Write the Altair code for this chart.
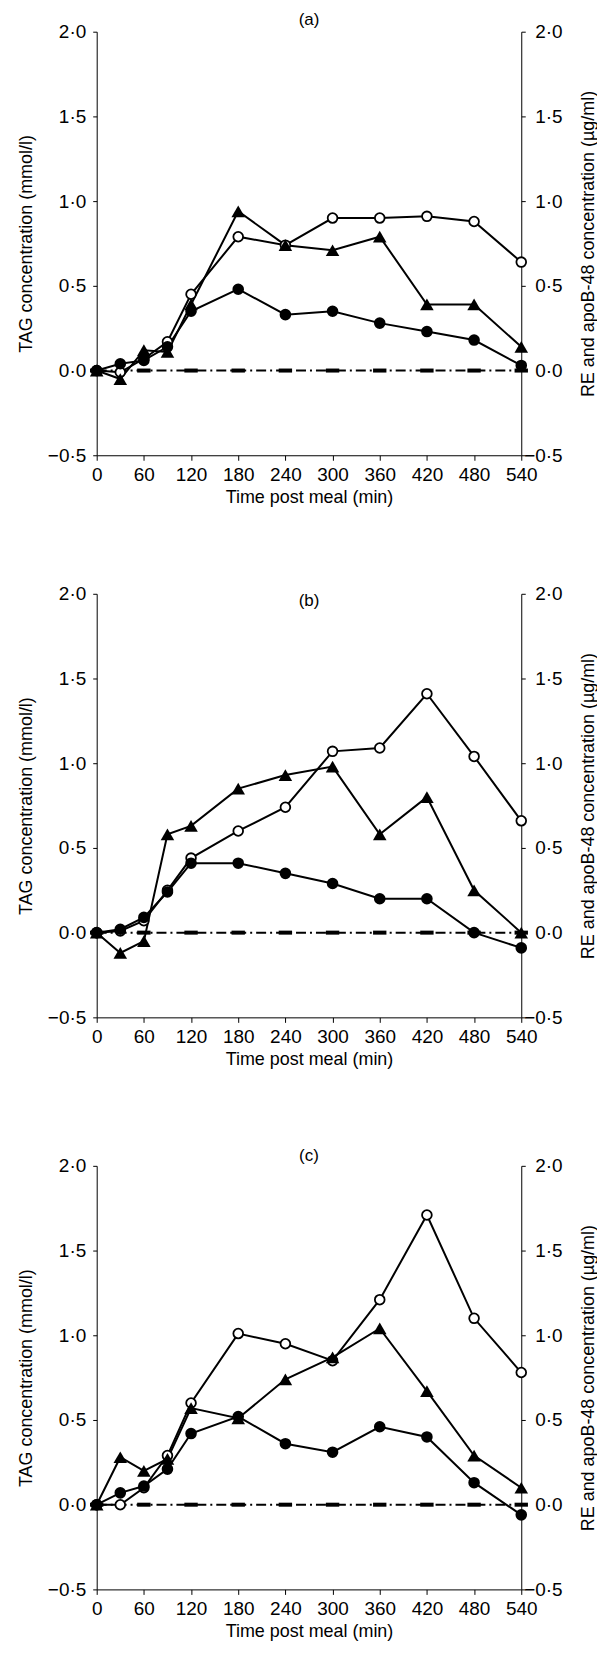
import altair as alt
import pandas as pd

times = [0, 30, 60, 90, 120, 180, 240, 300, 360, 420, 480, 540]
control_times = [0, 60, 120, 180, 240, 300, 360, 420, 480, 540]
control_values = [0.0, 0.0, 0.0, 0.0, 0.0, 0.0, 0.0, 0.0, 0.0, 0.0]

a_open = [0.00, -0.01, 0.07, 0.17, 0.45, 0.79, 0.74, 0.90, 0.90, 0.91, 0.88, 0.64]
a_filled = [0.00, 0.04, 0.06, 0.14, 0.35, 0.48, 0.33, 0.35, 0.28, 0.23, 0.18, 0.03]
a_tri = [0.00, -0.05, 0.12, 0.11, 0.39, 0.94, 0.74, 0.71, 0.79, 0.39, 0.39, 0.14]

b_open = [0.00, 0.01, 0.07, 0.25, 0.44, 0.60, 0.74, 1.07, 1.09, 1.41, 1.04, 0.66]
b_filled = [0.00, 0.02, 0.09, 0.24, 0.41, 0.41, 0.35, 0.29, 0.20, 0.20, 0.00, -0.09]
b_tri = [0.00, -0.12, -0.05, 0.58, 0.63, 0.85, 0.93, 0.98, 0.58, 0.80, 0.25, 0.00]

c_open = [0.00, 0.00, 0.10, 0.29, 0.60, 1.01, 0.95, 0.85, 1.21, 1.71, 1.10, 0.78]
c_filled = [0.00, 0.07, 0.11, 0.21, 0.42, 0.52, 0.36, 0.31, 0.46, 0.40, 0.13, -0.06]
c_tri = [0.00, 0.28, 0.20, 0.27, 0.57, 0.51, 0.74, 0.87, 1.04, 0.67, 0.29, 0.10]

x_ticks = [0, 60, 120, 180, 240, 300, 360, 420, 480, 540]
y_ticks = [-0.5, 0.0, 0.5, 1.0, 1.5, 2.0]

FONT = "Liberation Sans"
W, H = 426, 425

x_scale = alt.Scale(domain=[0, 540], nice=False, zero=False)
y_scale = alt.Scale(domain=[-0.5, 2.0], nice=False, zero=False)
lab_expr = "replace(format(datum.value, '.1f'), '.', '\u00b7')"

x_axis = alt.Axis(values=x_ticks, format="d", title="Time post meal (min)",
                  tickSize=5, labelPadding=5, titlePadding=4, labelFlush=False,
                  grid=False)
left_axis = alt.Axis(values=y_ticks, labelExpr=lab_expr, orient="left",
                     title="TAG concentration (mmol/l)", tickSize=4,
                     labelPadding=7, titlePadding=12, grid=False)
right_axis = alt.Axis(values=y_ticks, labelExpr=lab_expr, orient="right",
                      title="RE and apoB-48 concentration (\u00b5g/ml)",
                      tickSize=4, labelPadding=37, labelAlign="right",
                      titlePadding=35, titleAngle=270, grid=False)


def panel(label, open_v, filled_v, tri_v, title_offset):
    rows = []
    for name, vals in (("open", open_v), ("filled", filled_v), ("tri", tri_v)):
        for t, v in zip(times, vals):
            rows.append({"time": t, "value": v, "series": name})
    df = pd.DataFrame(rows)
    ctrl = pd.DataFrame({"time": control_times, "value": control_values})

    X = alt.X("time:Q", scale=x_scale, axis=x_axis)

    def Y(axis=None):
        return alt.Y("value:Q", scale=y_scale, axis=axis)

    ctrl_line = alt.Chart(ctrl).mark_line(
        color="black", strokeWidth=2, strokeDash=[10, 4, 2, 4]
    ).encode(x=X, y=Y(left_axis))
    ctrl_marks = alt.Chart(ctrl).mark_point(
        shape="M-1,-0.3L1,-0.3L1,0.3L-1,0.3Z", filled=True, color="black",
        opacity=1, size=180
    ).encode(x=X, y=Y())
    lines = alt.Chart(df).mark_line(color="black", strokeWidth=2).encode(
        x=X, y=Y(), detail="series:N"
    )
    opens = alt.Chart(df).transform_filter(alt.datum.series == "open").mark_point(
        shape="circle", filled=True, fill="white", stroke="black",
        strokeWidth=1.8, size=95, opacity=1
    ).encode(x=X, y=Y())
    filled = alt.Chart(df).transform_filter(alt.datum.series == "filled").mark_point(
        shape="circle", filled=True, color="black", size=135, opacity=1
    ).encode(x=X, y=Y())
    tris = alt.Chart(df).transform_filter(alt.datum.series == "tri").mark_point(
        shape="triangle-up", filled=True, color="black", size=185, opacity=1
    ).encode(x=X, y=Y())
    right = alt.Chart(ctrl).mark_line(opacity=0).encode(
        x=X, y=Y(right_axis)
    )
    return alt.layer(ctrl_line, ctrl_marks, lines, opens, filled, tris, right).resolve_scale(
        y="independent"
    ).properties(
        width=W, height=H,
        title=alt.TitleParams(text=label, fontSize=17, font=FONT, fontWeight="normal",
                              frame="group", anchor="middle", offset=title_offset,
                              color="black"),
    )


chart = alt.vconcat(
    panel("(a)", a_open, a_filled, a_tri, -6),
    panel("(b)", b_open, b_filled, b_tri, -25),
    panel("(c)", c_open, c_filled, c_tri, -8),
    spacing=79,
).properties(
    padding={"left": 9, "right": 0, "top": 0, "bottom": 0},
    background="white",
).configure_axis(
    labelFont=FONT, titleFont=FONT, labelFontSize=19, titleFontSize=18,
    titleFontWeight="normal", labelColor="black", titleColor="black",
    domainColor="black", tickColor="black", domainWidth=1, tickWidth=1, grid=False
).configure_view(stroke=None)

chart.save("out.html", embed_options={"renderer": "svg", "actions": False})
